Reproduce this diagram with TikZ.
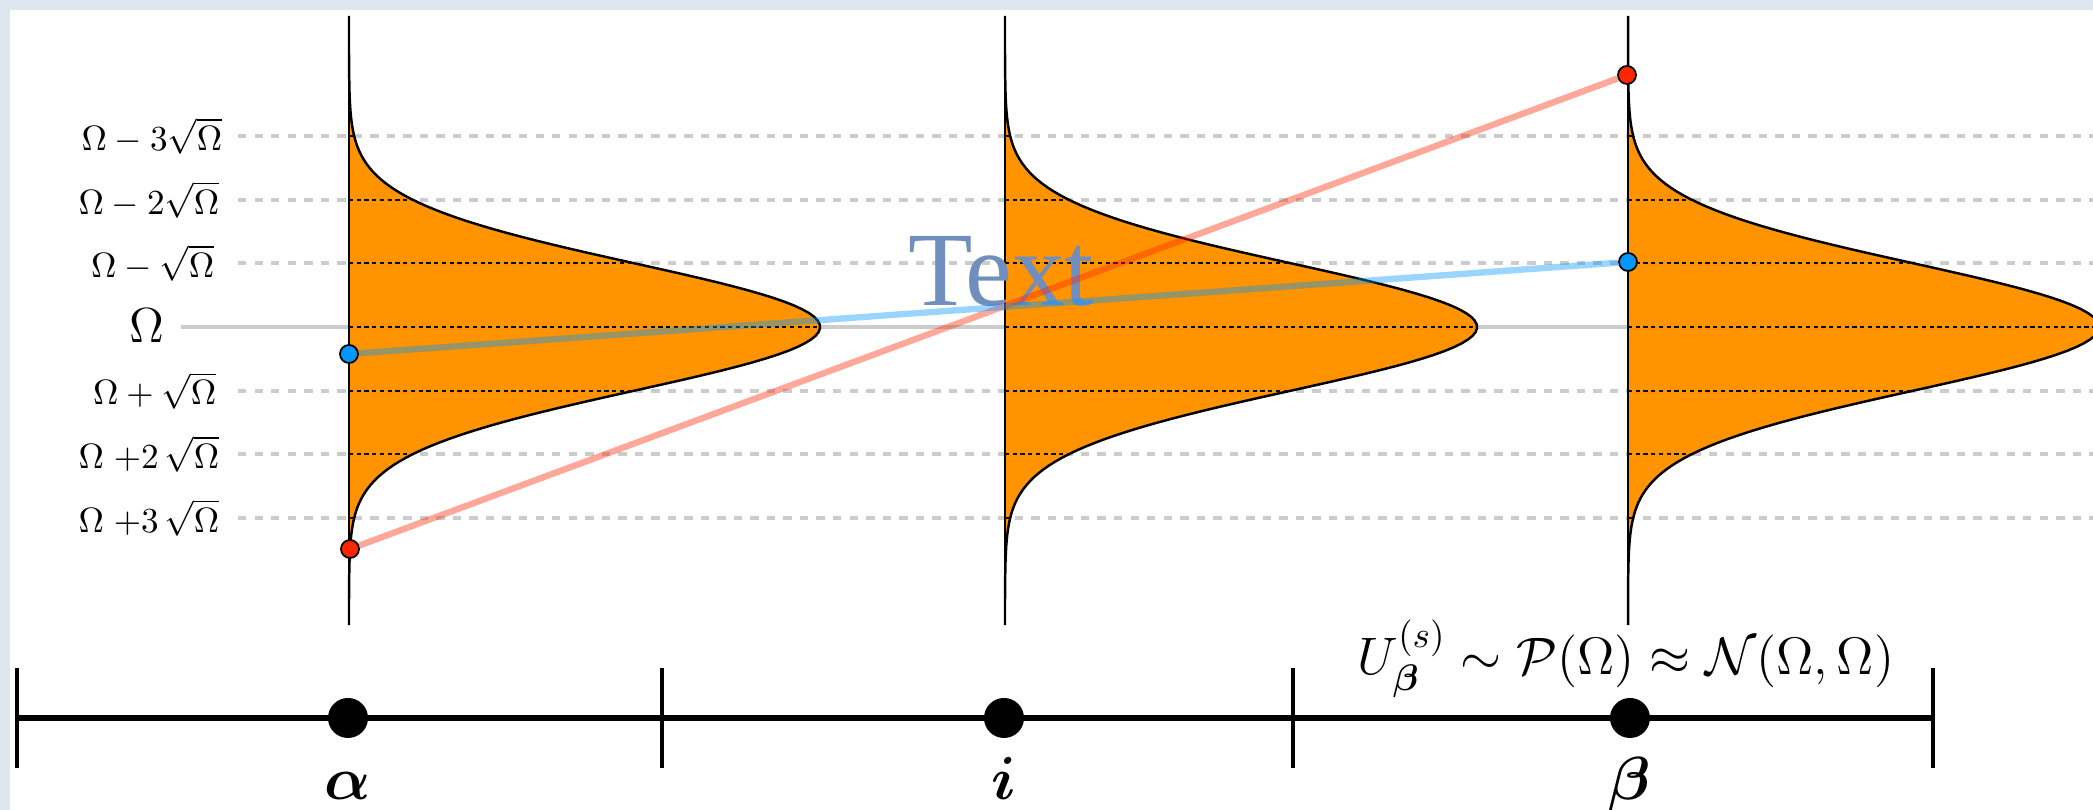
\RequirePackage{fix-cm}
\documentclass[tikz,border=0pt]{standalone}
\usepackage{amsmath,amssymb}
\usepackage{bm}
\usepackage{fontspec}
\newfontfamily\textserif{Liberation Serif}
\usetikzlibrary{positioning,calc}
\definecolor{frameblue}{RGB}{222,230,240}
\definecolor{gaussorange}{RGB}{255,147,0}
\definecolor{dotred}{RGB}{255,38,0}
\definecolor{dotblue}{RGB}{0,150,255}
\definecolor{levelgray}{RGB}{204,204,204}
\definecolor{textblue}{RGB}{112,142,190}
\tikzset{
 gaussfill/.style={fill=gaussorange},
 gausscurve/.style={draw=black,line width=0.7pt},
 axisline/.style={draw=black,line width=0.4pt},
 cutline/.style={draw=black,line width=0.6pt,dash pattern=on 1.2pt off 1pt},
 levelline/.style={draw=levelgray,line width=1.1pt,dash pattern=on 2.4pt off 2.3pt},
 meanline/.style={draw=levelgray,line width=1pt},
 lvl/.style={anchor=east,inner sep=0pt,font=\normalsize},
 reddot/.style={circle,draw=black,line width=0.5pt,fill=dotred,minimum size=0.18cm,inner sep=0pt},
 bluedot/.style={circle,draw=black,line width=0.5pt,fill=dotblue,minimum size=0.18cm,inner sep=0pt},
 redlink/.style={draw=dotred,line width=1.8pt,opacity=0.4},
 bluelink/.style={draw=dotblue,line width=1.8pt,opacity=0.4},
 siteaxis/.style={draw=black,line width=1.7pt},
 sitetick/.style={draw=black,line width=1.4pt},
 site/.style={circle,fill=black,minimum size=0.4cm,inner sep=0pt},
 sitelbl/.style={anchor=base,inner sep=0pt,font=\LARGE}
}

\begin{document}
\begin{tikzpicture}[x=0.01cm,y=0.01cm]
\useasboundingbox (0,0) rectangle (2093,810);
\fill[frameblue] (0,0) rectangle (2093,810);
\fill[white] (10,0) rectangle (2093,800);
\clip (0,0) rectangle (2093,810);

% sigma levels
\draw[meanline] (181,483) -- (2093,483);
\foreach \k in {-3,-2,-1,1,2,3}
  \draw[levelline] (238,{483+63.6*(\k)}) -- (2093,{483+63.6*(\k)});
\node[lvl] (lm3) at (223,{483+3*63.6}) {$\Omega-3\sqrt{\Omega}$};
\node[lvl] (lm2) at (220,{483+2*63.6}) {$\Omega-2\sqrt{\Omega}$};
\node[lvl] (lm1) at (215,{483+63.6}) {$\Omega-\sqrt{\Omega}$};
\node[lvl,font=\fontsize{14}{16}\selectfont] (lmean) at (165,484) {$\Omega$};
\node[lvl] (lp1) at (217,{483-63.6}) {$\Omega+\sqrt{\Omega}$};
\node[lvl] (lp2) at (220,{483-2*63.6}) {$\Omega\;{+2}\,\sqrt{\Omega}$};
\node[lvl] (lp3) at (220,{483-3*63.6}) {$\Omega\;{+3}\,\sqrt{\Omega}$};

% one gaussian per site
\foreach \cx/\amp in {349/471,1005/472,1628/471} {
  \fill[gaussfill] (\cx,794) -- plot[domain=4.89:-4.69,samples=161,variable=\t]
    ({\cx+\amp*exp(-0.5*(\t)*(\t))},{483+63.6*\t}) -- (\cx,185) -- cycle;
  \foreach \k in {-3,...,3}
    \draw[cutline] (\cx,{483+63.6*(\k)}) -- ++({\amp*exp(-0.5*(\k)*(\k))},0);
  \draw[axisline] (\cx,794) -- (\cx,185);
  \draw[gausscurve] plot[domain=4.89:-4.69,samples=161,variable=\t]
    ({\cx+\amp*exp(-0.5*(\t)*(\t))},{483+63.6*\t});
}

\node[anchor=base,inner sep=0pt,text=textblue,font=\textserif\fontsize{30}{36}\selectfont] (txt) at (1001,504) {Text};

% sampled values
\node[bluedot] (aBlue) at (349,456) {};
\node[reddot] (aRed) at (350,261) {};
\node[bluedot] (bBlue) at (1628,548) {};
\node[reddot] (bRed) at (1627,735) {};
\draw[redlink] (aRed) -- (bRed);
\draw[bluelink] (aBlue) -- (bBlue);

% lattice
\coordinate (t0) at (17,92);
\coordinate (t1) at (662,92);
\coordinate (t2) at (1293,92);
\coordinate (t3) at (1933,92);
\draw[siteaxis] (t0) -- (t3);
\foreach \t in {t0,t1,t2,t3}
  \draw[sitetick] ($(\t)+(0,50)$) -- ($(\t)-(0,50)$);
\node[site] (alpha) at (348,92) {};
\node[site] (mid) at (1004,92) {};
\node[site] (beta) at (1630,92) {};
\node[sitelbl] (alphalbl) at (348,10) {$\bm{\alpha}$};
\node[sitelbl] (midlbl) at (1004,10) {$\bm{i}$};
\node[sitelbl] (betalbl) at (1630,10) {$\bm{\beta}$};
\node[anchor=base,inner sep=0pt,font=\fontsize{15}{18}\selectfont] (law) at (1626,135)
  {$U^{(s)}_{\bm{\beta}}\sim\mathcal{P}(\Omega)\approx\mathcal{N}(\Omega,\Omega)$};
\end{tikzpicture}
\end{document}
